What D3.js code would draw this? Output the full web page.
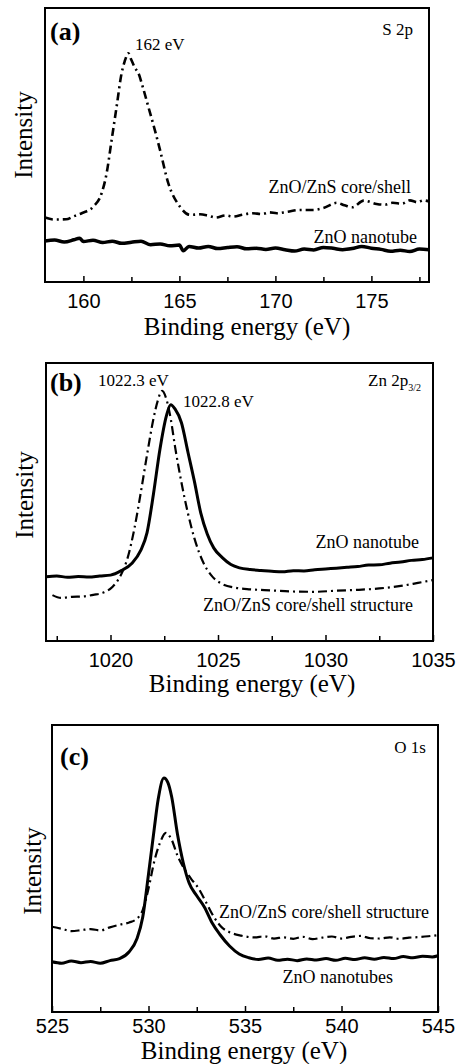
<!DOCTYPE html>
<html lang="en">
<head>
<meta charset="utf-8">
<title>XPS spectra</title>
<script src="https://d3js.org/d3.v7.min.js"></script>
<style>
  body { margin: 0; background: white; }
</style>
</head>
<body>
<script>
// ---- data (binding energy in eV, intensity in arbitrary units 0..100) ----

// (a) S 2p
const aShellE = [158.0, 158.5, 159.1, 159.5, 159.91, 160.52, 160.95, 161.21, 161.47, 161.73, 161.99, 162.15, 162.34, 162.5, 162.69, 162.86, 163.1, 163.38, 163.7, 163.99, 164.42, 165.03, 165.55, 166.07, 166.5, 166.9, 167.4, 167.8, 168.3, 168.8, 169.3, 169.7, 170.07, 170.6, 171.3, 171.97, 172.5, 173.2, 173.6, 174.0, 174.6, 175.27, 175.7, 176.1, 176.6, 177.0, 177.4, 177.7, 178.0];
const aShellI = [23.5, 22.8, 22.9, 24.0, 25.1, 27.5, 32.4, 39.7, 51.8, 64.0, 76.2, 80.5, 83.5, 81.0, 78.1, 76.3, 71.0, 64.0, 56.0, 48.2, 36.1, 27.5, 24.5, 24.7, 24.2, 23.5, 24.3, 23.9, 24.6, 25.1, 24.8, 25.4, 25.1, 25.6, 26.3, 26.3, 27.0, 28.9, 28.0, 27.3, 29.7, 28.5, 28.2, 28.9, 28.6, 29.8, 29.1, 29.8, 29.4];
const aTubeE = [158.0, 158.5, 159.0, 159.5, 159.8, 160.0, 160.5, 161.0, 161.5, 162.0, 162.5, 163.0, 163.5, 164.0, 164.5, 165.0, 165.2, 165.5, 166.0, 166.5, 167.0, 167.5, 168.0, 168.5, 169.0, 169.5, 170.0, 170.5, 171.0, 171.5, 172.0, 172.5, 173.0, 173.5, 174.0, 174.5, 175.0, 175.5, 176.0, 176.5, 177.0, 177.5, 178.0];
const aTubeI = [15.0, 15.3, 14.6, 15.4, 16.0, 14.8, 15.2, 14.4, 14.9, 14.1, 14.5, 14.9, 13.6, 13.9, 13.2, 13.5, 11.4, 13.0, 12.4, 13.0, 12.2, 12.6, 12.9, 12.1, 12.3, 11.9, 12.4, 11.8, 11.3, 12.0, 11.7, 12.6, 12.3, 11.8, 12.2, 13.0, 12.3, 11.9, 11.2, 11.6, 11.1, 12.0, 11.8];

// (b) Zn 2p3/2
const bTubeE = [1017.0, 1017.5, 1018.0, 1018.5, 1019.0, 1019.5, 1020.0, 1020.5, 1021.0, 1021.4, 1021.7, 1022.0, 1022.3, 1022.6, 1022.8, 1023.0, 1023.3, 1023.6, 1023.9, 1024.2, 1024.5, 1024.8, 1025.2, 1025.6, 1026.0, 1026.5, 1027.0, 1027.5, 1028.0, 1028.5, 1029.0, 1029.5, 1030.0, 1030.5, 1031.0, 1031.5, 1032.0, 1032.5, 1033.0, 1033.5, 1034.0, 1034.5, 1035.0];
const bTubeI = [23.1, 23.4, 22.9, 23.2, 23.0, 23.4, 23.7, 25.3, 28.0, 32.5, 39.0, 53.0, 69.0, 81.0, 85.0, 83.5, 78.5, 68.0, 57.5, 46.0, 38.5, 33.5, 30.0, 27.5, 26.3, 25.7, 25.4, 25.1, 24.9, 25.3, 25.2, 25.6, 25.9, 26.2, 26.5, 26.8, 27.3, 27.4, 28.0, 28.4, 29.0, 29.3, 29.9];
const bShellE = [1017.3, 1017.7, 1018.2, 1018.7, 1019.2, 1019.7, 1020.1, 1020.5, 1020.8, 1021.1, 1021.4, 1021.7, 1022.0, 1022.2, 1022.4, 1022.6, 1022.8, 1023.0, 1023.3, 1023.6, 1023.9, 1024.3, 1024.7, 1025.2, 1025.8, 1026.5, 1027.5, 1028.5, 1029.5, 1030.5, 1031.5, 1032.5, 1033.5, 1034.3, 1035.0];
const bShellI = [16.5, 15.5, 15.9, 16.0, 16.6, 17.5, 19.5, 24.0, 30.0, 40.0, 53.0, 67.0, 80.0, 86.5, 90.0, 87.0, 80.0, 70.0, 57.0, 46.0, 37.0, 28.5, 23.5, 20.5, 19.2, 18.6, 18.2, 17.8, 17.7, 18.1, 18.4, 18.9, 19.8, 20.9, 21.9];

// (c) O 1s
const cTubeE = [525.0, 525.5, 526.0, 526.5, 527.0, 527.5, 528.0, 528.5, 529.0, 529.4, 529.7, 530.0, 530.3, 530.5, 530.8, 531.0, 531.2, 531.5, 531.8, 532.1, 532.5, 532.9, 533.3, 533.7, 534.2, 534.7, 535.2, 535.7, 536.2, 536.7, 537.2, 537.7, 538.2, 538.7, 539.2, 539.7, 540.2, 540.7, 541.2, 541.7, 542.2, 542.7, 543.2, 543.7, 544.2, 544.7, 545.0];
const cTubeI = [17.5, 17.0, 17.8, 17.2, 17.6, 17.0, 17.9, 18.6, 21.0, 25.5, 33.0, 48.0, 64.0, 74.0, 81.5, 80.0, 75.0, 62.0, 52.0, 45.0, 40.5, 36.5, 31.0, 27.0, 23.0, 20.2, 18.9, 18.3, 18.8, 18.0, 18.4, 17.9, 18.5, 18.1, 18.6, 18.0, 18.7, 18.3, 18.9, 18.4, 19.0, 18.6, 19.3, 18.9, 19.4, 19.2, 19.6];
const cShellE = [525.0, 525.5, 526.0, 526.5, 527.0, 527.5, 528.0, 528.5, 529.0, 529.4, 529.7, 530.0, 530.3, 530.6, 530.9, 531.2, 531.5, 531.8, 532.2, 532.6, 533.0, 533.4, 533.8, 534.2, 534.8, 535.5, 536.0, 536.5, 537.0, 537.5, 538.0, 538.5, 539.0, 539.5, 540.0, 540.5, 541.0, 541.5, 542.0, 542.5, 543.0, 543.5, 544.0, 544.5, 545.0];
const cShellI = [29.7, 29.0, 28.2, 28.5, 28.9, 28.4, 29.5, 30.4, 31.2, 32.5, 35.5, 43.0, 52.5, 59.0, 62.4, 60.0, 54.5, 50.5, 46.5, 43.0, 38.0, 33.0, 29.5, 27.8, 26.6, 26.0, 26.4, 25.6, 26.0, 25.5, 26.2, 25.4, 25.9, 26.3, 25.6, 26.2, 26.5, 25.7, 25.6, 26.0, 25.5, 25.9, 26.1, 26.4, 26.8];

// axis ticks
const aMajor = [160, 165, 170, 175];
const aMinor = [162.5, 167.5, 172.5, 177.5];
const bMajor = [1020, 1025, 1030, 1035];
const bMinor = [1017.5, 1022.5, 1027.5, 1032.5];
const cMajor = [525, 530, 535, 540, 545];
const cMinor = [527.5, 532.5, 537.5, 542.5];

// ---- layout ----
const W = 459, H = 1064;
const SERIF = "'Liberation Serif', 'Times New Roman', serif";
const SANS = "'Liberation Sans', Arial, sans-serif";
const DASHDOT = "9,4,2,4";

const panels = [
  { frame: {left: 45, right: 429, top: 8, bottom: 282}, domain: [158, 178],
    major: aMajor, minor: aMinor, tickBase: 26, title: {x: 247, y: 335}, ylab: {x: 32, y: 135},
    series: [
      {e: aShellE, i: aShellI, dash: "8,4,2,4", width: 2.6},
      {e: aTubeE, i: aTubeI, dash: null, width: 3.5}
    ],
    texts: [
      {t: "(a)", x: 50, y: 40, size: 26, bold: true},
      {t: "S 2p", x: 413, y: 35, size: 17, anchor: "end"},
      {t: "162 eV", x: 135, y: 50, size: 17},
      {t: "ZnO/ZnS core/shell", x: 411, y: 193, size: 18, anchor: "end"},
      {t: "ZnO nanotube", x: 417, y: 243, size: 18, anchor: "end"}
    ] },
  { frame: {left: 46, right: 433, top: 363, bottom: 641}, domain: [1017, 1035],
    major: bMajor, minor: bMinor, tickBase: 26, title: {x: 252, y: 692}, ylab: {x: 33, y: 495},
    series: [
      {e: bShellE, i: bShellI, dash: DASHDOT, width: 2.2},
      {e: bTubeE, i: bTubeI, dash: null, width: 3}
    ],
    texts: [
      {t: "(b)", x: 50, y: 391, size: 26, bold: true},
      {t: "1022.3 eV", x: 98, y: 386, size: 17},
      {t: "1022.8 eV", x: 183, y: 407, size: 17},
      {t: "ZnO nanotube", x: 419, y: 548, size: 18, anchor: "end"},
      {t: "ZnO/ZnS core/shell structure", x: 413, y: 611, size: 18, anchor: "end"}
    ] },
  { frame: {left: 52, right: 438, top: 725, bottom: 1012}, domain: [525, 545],
    major: cMajor, minor: cMinor, tickBase: 21, title: {x: 244, y: 1059}, ylab: {x: 41, y: 871},
    series: [
      {e: cShellE, i: cShellI, dash: DASHDOT, width: 2.2},
      {e: cTubeE, i: cTubeI, dash: null, width: 3}
    ],
    texts: [
      {t: "(c)", x: 60, y: 765, size: 26, bold: true},
      {t: "O 1s", x: 426, y: 753, size: 17, anchor: "end"},
      {t: "ZnO/ZnS core/shell structure", x: 429, y: 918, size: 18, anchor: "end"},
      {t: "ZnO nanotubes", x: 393, y: 983, size: 18, anchor: "end"}
    ] }
];

const svg = d3.select("body").append("svg")
    .attr("width", W)
    .attr("height", H);

svg.append("rect").attr("width", W).attr("height", H).attr("fill", "white");

panels.forEach(function(p) {
  const f = p.frame;
  const x = d3.scaleLinear().domain(p.domain).range([f.left, f.right]);
  const y = d3.scaleLinear().domain([0, 100]).range([f.bottom, f.top]);

  const g = svg.append("g");

  // curves
  const line = d3.line()
      .curve(d3.curveMonotoneX)
      .x(function(d) { return x(d[0]); })
      .y(function(d) { return y(d[1]); });

  p.series.forEach(function(s) {
    const pts = s.e.map(function(e, k) { return [e, s.i[k]]; });
    g.append("path")
      .datum(pts)
      .attr("d", line)
      .attr("fill", "none")
      .attr("stroke", "black")
      .attr("stroke-width", s.width)
      .attr("stroke-linejoin", "round")
      .attr("stroke-dasharray", s.dash);
  });

  // bottom axis, inward ticks
  const axMaj = g.append("g")
      .attr("transform", "translate(0," + f.bottom + ")")
      .call(d3.axisBottom(x).tickValues(p.major).tickSizeInner(-6).tickSizeOuter(0).tickFormat(d3.format("d")));
  axMaj.select(".domain").remove();
  axMaj.selectAll("line").attr("stroke-width", 1.5);
  axMaj.selectAll("text")
      .attr("y", p.tickBase).attr("dy", 0)
      .style("font-family", SANS).style("font-size", "20px").attr("fill", "black");

  const axMin = g.append("g")
      .attr("transform", "translate(0," + f.bottom + ")")
      .call(d3.axisBottom(x).tickValues(p.minor).tickSizeInner(-5).tickSizeOuter(0).tickFormat(""));
  axMin.select(".domain").remove();
  axMin.selectAll("line").attr("stroke-width", 1.5);

  // frame
  g.append("rect")
    .attr("x", f.left).attr("y", f.top)
    .attr("width", f.right - f.left).attr("height", f.bottom - f.top)
    .attr("fill", "none").attr("stroke", "black").attr("stroke-width", 2);

  // axis titles
  g.append("text")
    .attr("x", p.title.x).attr("y", p.title.y)
    .attr("text-anchor", "middle")
    .style("font-family", SERIF).style("font-size", "25px")
    .text("Binding energy (eV)");

  g.append("text")
    .attr("transform", "translate(" + p.ylab.x + "," + p.ylab.y + ") rotate(-90)")
    .attr("text-anchor", "middle")
    .style("font-family", SERIF).style("font-size", "25px")
    .text("Intensity");

  // annotations
  p.texts.forEach(function(t) {
    g.append("text")
      .attr("x", t.x).attr("y", t.y)
      .attr("text-anchor", t.anchor || "start")
      .style("font-family", SERIF)
      .style("font-size", t.size + "px")
      .style("font-weight", t.bold ? "bold" : "normal")
      .text(t.t);
  });
});

// Zn 2p3/2 label with subscript
const zn = svg.append("text")
    .attr("x", 368).attr("y", 386)
    .style("font-family", SERIF).style("font-size", "17px");
zn.append("tspan").text("Zn 2p");
zn.append("tspan").attr("dy", 5).style("font-size", "10px").text("3/2");
</script>
</body>
</html>
